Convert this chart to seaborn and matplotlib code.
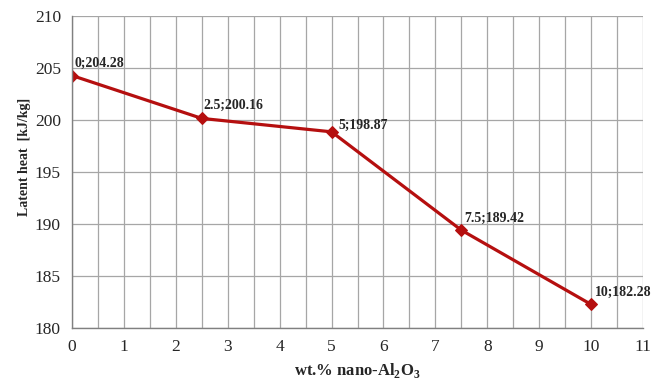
import matplotlib
matplotlib.use("Agg")
import matplotlib.pyplot as plt
import seaborn as sns
import pandas as pd
from matplotlib.ticker import MultipleLocator

wt = [0, 2.5, 5, 7.5, 10]
latent = [204.28, 200.16, 198.87, 189.42, 182.28]
labels = ["0;204.28", "2.5;200.16", "5;198.87", "7.5;189.42", "10;182.28"]

sns.set_style("white")
plt.rcParams['font.family'] = ['Liberation Serif', 'DejaVu Serif']
plt.rcParams['mathtext.fontset'] = 'custom'
plt.rcParams['mathtext.rm'] = 'Liberation Serif'
plt.rcParams['mathtext.bf'] = 'Liberation Serif:bold'

df = pd.DataFrame({"wt": wt, "latent": latent})
fig = plt.figure(figsize=(6.67, 3.82), dpi=100)
ax = fig.add_axes([0.108, 0.141, 0.856, 0.817])
sns.lineplot(data=df, x="wt", y="latent", ax=ax, color="#B50F0F", linewidth=2.3,
             marker="D", markersize=6, markeredgecolor="#B50F0F")

ax.set_xlim(0, 11)
ax.set_ylim(180, 210)
ax.xaxis.set_major_locator(MultipleLocator(1))
ax.xaxis.set_minor_locator(MultipleLocator(0.5))
ax.yaxis.set_major_locator(MultipleLocator(5))
ax.grid(True, which='both', axis='x', color='#A6A6A6', linewidth=0.9)
ax.grid(True, which='major', axis='y', color='#A6A6A6', linewidth=0.9)
ax.set_axisbelow(True)
for s in ['top', 'right']:
    ax.spines[s].set_visible(False)
for s in ['left', 'bottom']:
    ax.spines[s].set_color('#808080')
    ax.spines[s].set_linewidth(1.0)
ax.tick_params(axis='both', which='major', direction='out', length=5, width=1,
               color='#808080', labelsize=12.5, pad=3)
ax.tick_params(axis='x', which='minor', length=0)

ax.set_xlabel("wt.% nano-Al$_\\mathbf{2}$O$_\\mathbf{3}$", fontsize=12, fontweight='bold')
ax.set_ylabel("Latent heat  [kJ/kg]", fontsize=10, fontweight='bold')
ax.yaxis.set_label_coords(-0.072, 0.55)

offsets = [(2, 4), (1, 5), (5, 0), (2, 4), (3, 4)]
for x, y, t, off in zip(wt, latent, labels, offsets):
    ax.annotate(t, (x, y), xytext=off, textcoords='offset points',
                fontsize=10, fontweight='bold', ha='left', va='bottom')

fig.savefig("out.png", dpi=100)
